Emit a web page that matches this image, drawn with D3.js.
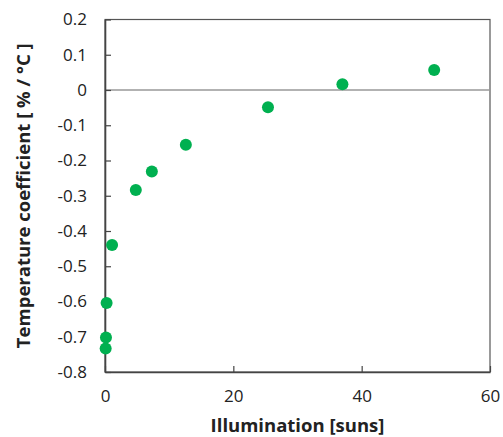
<!DOCTYPE html>
<html>
<head>
<meta charset="utf-8">
<script src="https://cdn.jsdelivr.net/npm/d3@7"></script>
<style>
body { margin: 0; background: #fff; }
text { font-family: "Open Sans", sans-serif; fill: #222; }
</style>
</head>
<body>
<script>
var width = 503;
var height = 437;

// illumination (suns) and temperature coefficient (%/°C)
var illumination = [0.1, 0.15, 0.25, 1.1, 4.8, 7.3, 12.6, 25.4, 37.0, 51.3];
var tempCoef = [-0.733, -0.702, -0.604, -0.44, -0.284, -0.231, -0.155, -0.049, 0.016, 0.057];
var xTicks = [0, 20, 40, 60];
var yTicks = [0.2, 0.1, 0, -0.1, -0.2, -0.3, -0.4, -0.5, -0.6, -0.7, -0.8];

var margin = {left: 105, right: 13, top: 19.5, bottom: 65};

var svg = d3.select("body")
            .append("svg")
            .attr("width", width)
            .attr("height", height);

var x = d3.scaleLinear().domain([0, 60]).range([margin.left, width - margin.right]);
var y = d3.scaleLinear().domain([-0.8, 0.2]).range([height - margin.bottom, margin.top]);

// frame
svg.append("rect")
    .attr("x", x(0))
    .attr("y", y(0.2))
    .attr("width", x(60) - x(0))
    .attr("height", y(-0.8) - y(0.2))
    .style("fill", "none")
    .style("stroke", "#555")
    .style("stroke-width", 1.2);

// zero line
svg.append("line")
    .attr("x1", x(0)).attr("x2", x(60))
    .attr("y1", y(0)).attr("y2", y(0))
    .style("stroke", "#999")
    .style("stroke-width", 1.5);

var xAxis = svg.append("g")
    .attr("transform", "translate(0," + y(-0.8) + ")")
    .call(d3.axisBottom(x).tickValues(xTicks).tickSizeInner(-6).tickSizeOuter(0).tickPadding(18));
var yAxis = svg.append("g")
    .attr("transform", "translate(" + x(0) + ",0)")
    .call(d3.axisLeft(y).tickValues(yTicks).tickSizeInner(-6).tickSizeOuter(0).tickPadding(18));

[xAxis, yAxis].forEach(function(a) {
    a.select(".domain").style("stroke", "#444").style("stroke-width", 1.6);
    a.selectAll(".tick line").style("stroke", "#444").style("stroke-width", 1.2);
    a.selectAll(".tick text").style("font-size", "17px").style("fill", "#222");
});
yAxis.selectAll(".tick text").text(function(d) { return d === 0 ? "0" : d3.format(".1f")(d).replace("−", "-"); });

svg.selectAll(".pt")
    .data(illumination)
    .enter()
    .append("circle")
    .attr("class", "pt")
    .attr("cx", function(d) { return x(d); })
    .attr("cy", function(d, i) { return y(tempCoef[i]); })
    .attr("r", 6)
    .style("fill", "#00b050");

svg.append("text")
    .attr("x", (x(0) + x(60)) / 2)
    .attr("y", 432)
    .attr("text-anchor", "middle")
    .style("font-size", "18.5px")
    .style("font-weight", "bold")
    .text("Illumination [suns]");

svg.append("text")
    .attr("transform", "translate(30," + (y(0.2) + y(-0.8)) / 2 + ") rotate(-90)")
    .attr("text-anchor", "middle")
    .style("font-size", "18.5px")
    .style("font-weight", "bold")
    .text("Temperature coefficient [ % / °C ]");
</script>
</body>
</html>
